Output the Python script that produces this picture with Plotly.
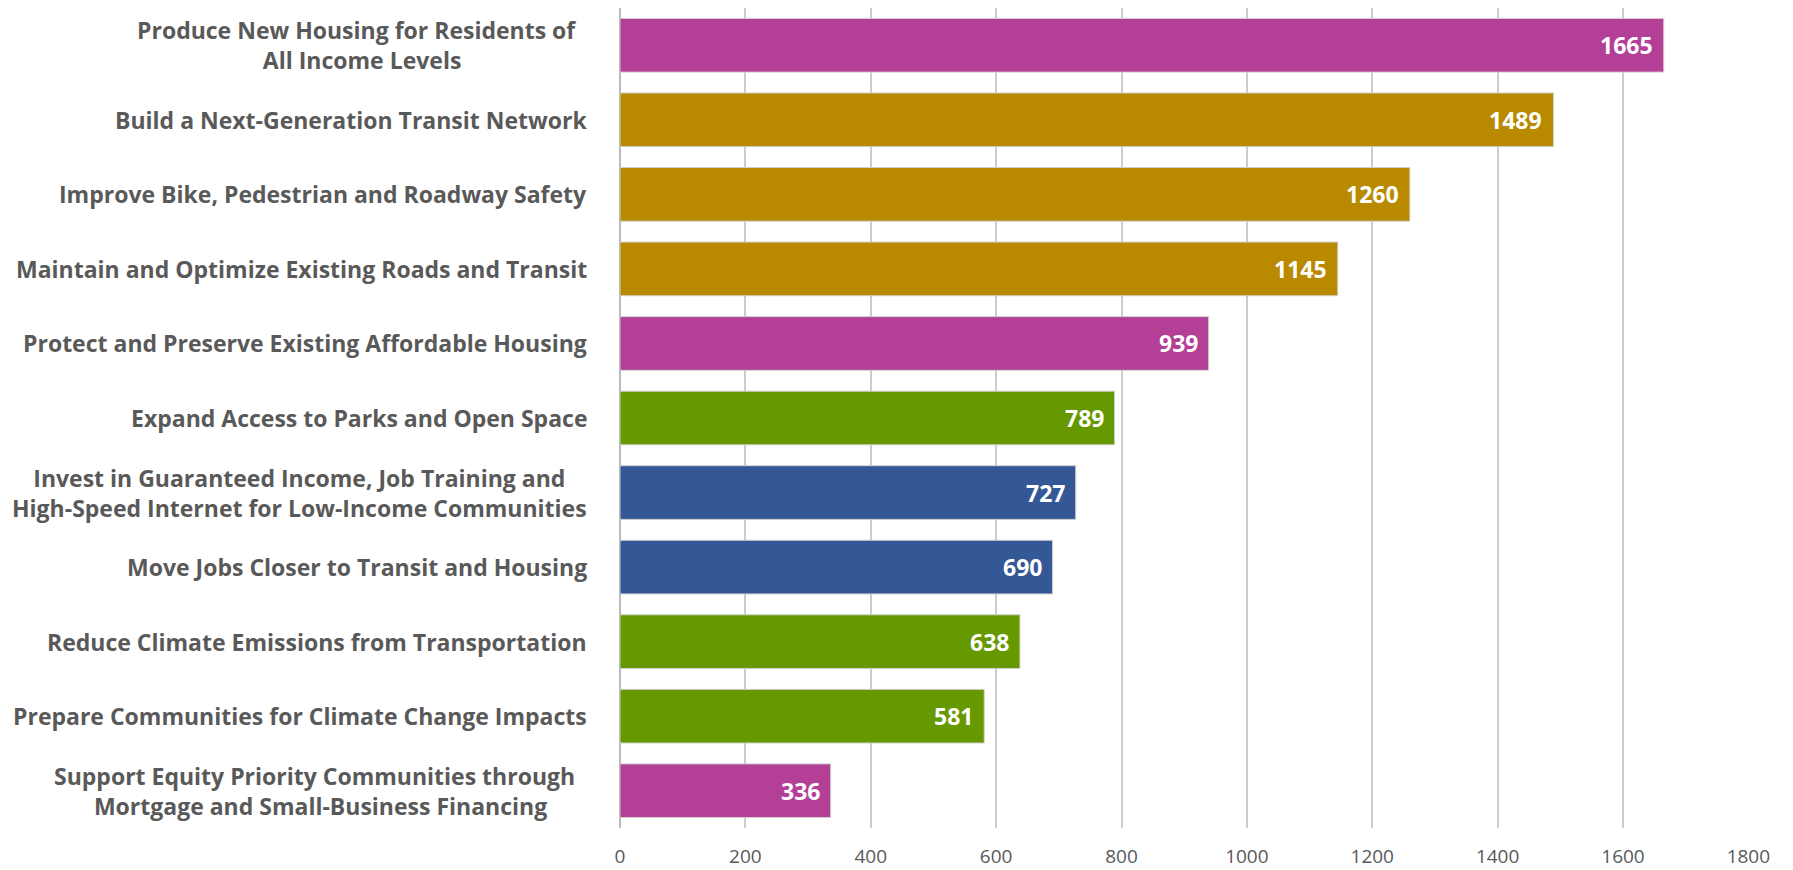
import plotly.graph_objects as go

categories = [
    "Produce New Housing for Residents of\u00a0\u00a0<br>All Income Levels",
    "Build a Next-Generation Transit Network",
    "Improve Bike, Pedestrian and Roadway Safety",
    "Maintain and Optimize Existing Roads and Transit",
    "Protect and Preserve Existing Affordable Housing",
    "Expand Access to Parks and Open Space",
    "Invest in Guaranteed Income, Job Training and<br>High-Speed Internet for Low-Income Communities",
    "Move Jobs Closer to Transit and Housing",
    "Reduce Climate Emissions from Transportation",
    "Prepare Communities for Climate Change Impacts",
    "Support Equity Priority Communities through\u00a0\u00a0<br>Mortgage and Small-Business Financing",
]
values = [1665, 1489, 1260, 1145, 939, 789, 727, 690, 638, 581, 336]
groups = ["housing", "transport", "transport", "transport", "housing",
          "environment", "economy", "economy", "environment", "environment", "housing"]
group_colors = {
    "housing": "#B33F97",
    "transport": "#B98A00",
    "environment": "#669900",
    "economy": "#345896",
}
tick_values = [0, 200, 400, 600, 800, 1000, 1200, 1400, 1600, 1800]

FONT = "Open Sans"
ids = list(range(len(categories)))

fig = go.Figure()
fig.add_trace(go.Bar(
    x=values,
    y=ids,
    orientation="h",
    marker=dict(color=[group_colors[g] for g in groups],
                line=dict(color="#D0D0D0", width=1)),
    width=0.72,
    hoverinfo="skip",
))

annotations = []
for i, (cat, v) in enumerate(zip(categories, values)):
    annotations.append(dict(
        x=0, xref="paper", y=i, yref="y",
        text=cat, showarrow=False, xanchor="right", yanchor="middle",
        xshift=-31, align="center",
        font=dict(family=FONT, size=23, color="#595959", weight="bold"),
    ))
    annotations.append(dict(
        x=v, xref="x", y=i, yref="y",
        text=str(v), showarrow=False, xanchor="right", yanchor="middle",
        xshift=-9,
        font=dict(family=FONT, size=23, color="#FFFFFF", weight="bold"),
    ))

fig.update_layout(
    width=1785, height=862,
    margin=dict(l=612, r=44, t=0, b=42, autoexpand=False),
    paper_bgcolor="white", plot_bgcolor="white",
    showlegend=False,
    annotations=annotations,
    xaxis=dict(range=[0, 1801], tickvals=tick_values, showgrid=True,
               gridcolor="#CCCCCC", gridwidth=1.5, zeroline=True,
               zerolinecolor="#BBBBBB", zerolinewidth=1.5,
               tickfont=dict(family=FONT, size=19, color="#595959"),
               ticks="", ticklabelstandoff=15, automargin=False,
               fixedrange=True),
    yaxis=dict(range=[10.5, -0.5], showticklabels=False, showgrid=False,
               zeroline=False, automargin=False, fixedrange=True),
)

fig.write_html("out.html")
